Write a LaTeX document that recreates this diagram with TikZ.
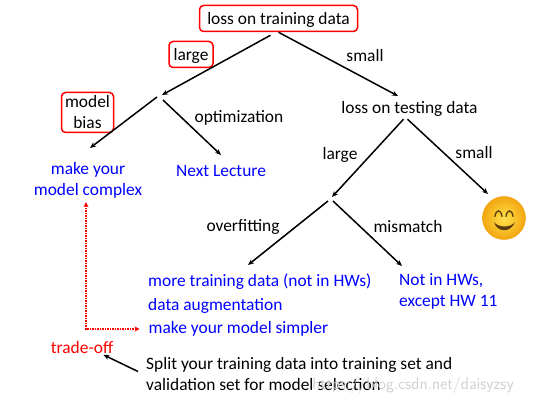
\documentclass[tikz,border=0pt]{standalone}
\usepackage{fontspec}
\setmainfont{Carlito}
\usetikzlibrary{positioning,arrows.meta}
\definecolor{textblue}{HTML}{0000FF}
\definecolor{markred}{HTML}{FF0000}
\definecolor{facedark}{HTML}{5A3A10}
\definecolor{faceyellow}{HTML}{FFE14A}
\definecolor{faceorange}{HTML}{F2A60F}
\begin{document}
\begin{tikzpicture}[
   x=1pt, y=-1pt,
   node distance=0pt,
   label/.style={inner sep=0pt, align=center, font=\fontsize{17.4}{21}\selectfont},
   todo/.style={label, text=textblue},
   marked/.style={label, draw=markred, line width=1.5pt, rounded corners=4pt},
   edge/.style={-{Stealth[length=6pt,width=5pt]}, line width=1.5pt},
   >={Stealth[]}]
  \useasboundingbox (0,0) rectangle (533,403);

  \node[marked, text depth=1pt, minimum width=158pt, minimum height=26pt] (root) at (278.5,18.5) {loss on training data};
  \node[marked, text depth=1pt, minimum width=44pt, minimum height=26pt] (large) at (191,54.5) {large};
  \node[marked, minimum width=52pt, minimum height=40pt] (bias) at (87.5,112.5) {model\\bias};
  \node[label] (test) at (409.5,108.5) {loss on testing data};

  \coordinate (jointa) at (162,95);
  \coordinate (jointal) at (157,97);
  \coordinate (jointar) at (163,100);
  \coordinate (jointb) at (332,197);
  \coordinate (jointbl) at (328,201);
  \coordinate (jointbr) at (333,201);

  \node[todo] (complex) at (88,180) {make your\\model complex};
  \node[todo] (next) at (221,170.5) {Next Lecture};
  \node[todo, anchor=west] (more) at (148,281.5) {more training data (not in HWs)};
  \node[todo, anchor=west] (augment) at (148,305.5) {data augmentation};
  \node[todo, anchor=west] (simpler) at (148.5,329) {make your model simpler};
  \node[todo, align=left, anchor=west] (nothw) at (399,291) {Not in HWs,\\except HW 11};
  \node[label, text=markred] (tradeoff) at (82,347.5) {trade-off};
  \node[label, align=left, anchor=west] (split) at (146,374.5) {Split your training data into training set and\\validation set for model selection};

  \node[label] (small) at (365,55.5) {small};
  \node[label] (optim) at (239,117.5) {optimization};
  \node[label] (tlarge) at (340,154.5) {large};
  \node[label] (tsmall) at (474,152.5) {small};
  \node[label] (overfit) at (243,226.5) {overfitting};
  \node[label] (mismatch) at (408,226.5) {mismatch};
  \node[inner sep=0pt, text=black!18, font=\fontsize{16.8}{18}\sffamily\selectfont, anchor=east] (mark) at (514,385) {https://blog.csdn.net/daisyzsy};

  \draw[edge] ([xshift=-8pt,yshift=-3pt]root.south) -- (jointa);
  \draw[edge] (root.south) -- (398,96);
  \draw[edge] (jointal) -- (90,148);
  \draw[edge] (jointar) -- (221,155);
  \draw[edge] ([xshift=-6pt,yshift=-3pt]test.south) -- (jointb);
  \draw[edge] ([xshift=-2pt,yshift=-3pt]test.south) -- (488,194);
  \draw[edge] (jointbl) -- (248,265);
  \draw[edge] (jointbr) -- (402,266);
  \draw[edge] ([xshift=-8pt,yshift=3pt]split.west) -- ([xshift=-10pt,yshift=-1pt]tradeoff.south east);

  % both ends of the trade-off
  \draw[markred, densely dotted, line width=1.5pt, {Stealth[length=5pt,width=5pt]}-{Stealth[length=5pt,width=5pt]}]
    ([xshift=-2pt,yshift=-4pt]complex.south) |- ([xshift=-9pt]simpler.west);

  % smiley
  \shade[inner color=faceyellow, outer color=faceorange, draw=faceorange, line width=0.5pt] (504,218) circle (21.5);
  \draw[facedark, line width=1.3pt, line cap=round] (495,216.5) .. controls (496,209) and (501,209) .. (502,216.5);
  \draw[facedark, line width=1.3pt, line cap=round] (506,216.5) .. controls (507,209) and (512,209) .. (513,216.5);
  \fill[facedark] (494,222) .. controls (497,233) and (511,233) .. (515,222) .. controls (511,228) and (498,228) .. cycle;
\end{tikzpicture}
\end{document}
